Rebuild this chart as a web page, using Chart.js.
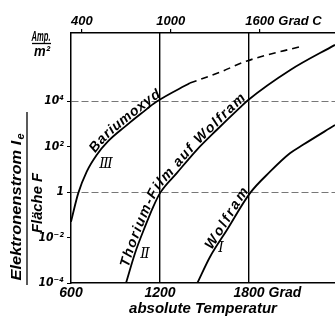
<!DOCTYPE html>
<html>
<head>
<meta charset="utf-8">
<script src="https://cdn.jsdelivr.net/npm/chart.js@4"></script>
<style>
html, body { margin: 0; padding: 0; background: #fff; }
canvas { display: block; }
</style>
</head>
<body>
<canvas id="grafico" width="335" height="322"></canvas>
<script>
// absolute Temperatur (K) und Elektronenstrom / Fläche (A/m²)
const bariumK = [600, 649, 706, 773, 849, 964, 1077, 1178, 1402];
const bariumI = [0.05, 0.9, 8, 43, 170, 760, 3000, 9600, 6.3e4];
const bariumStrichK = [1402, 1605, 1787, 2164];
const bariumStrichI = [6.3e4, 1.9e5, 5.9e5, 2.7e6];
const thoriumK = [971, 1031, 1099, 1155, 1200, 1313, 1447, 1582, 1739, 1793, 2076, 2380];
const thoriumI = [1e-4, 2.0e-3, 0.03, 0.23, 0.9, 6.8, 71, 540, 5200, 1.1e4, 2.3e5, 3.0e6];
const wolframK = [1452, 1537, 1650, 1807, 1942, 2076, 2164, 2380];
const wolframI = [1e-4, 1.4e-3, 0.021, 0.9, 7.9, 51, 120, 890];

const tempTicks = [600, 1200, 1800];
const tempLabels = ['600', '1200', '1800'];
const celsiusTicks = [673, 1273, 1873];
const celsiusLabels = ['400', '1000', '1600'];
const stromTicks = [1e-4, 1e-2, 1, 1e2, 1e4];
const stromLabels = ['10⁻⁴', '10⁻²', '1', '10²', '10⁴'];
const gitterTemp = [1200, 1800];
const gitterStrom = [1, 1e4];

// Beschriftung entlang der Kurven: Text, Datensatz, von K, bis K
const kurvenTexte = [
  ['Bariumoxyd', 0, 775, 1215],
  ['Thorium-Film auf Wolfram', 2, 1000, 1790],
  ['Wolfram', 3, 1560, 1810]
];
// Kurvennummern: Text, K, Strom
const nummern = [['Ⅲ', 836, 17], ['Ⅱ', 1099, 1.9e-3], ['Ⅰ', 1612, 3.5e-3]];

const FONT = "'Liberation Sans', Arial, sans-serif";
const schrift = (g, fam) => ({ family: fam || FONT, size: g, style: 'italic', weight: 'bold' });

function punkte(ks, is) {
  return ks.map((k, i) => ({ x: k, y: is[i] }));
}

// Kurve als Polylinie in Pixeln (aus den Bezier-Kontrollpunkten von Chart.js)
function kurve(meta) {
  const p = meta.data, out = [];
  for (let i = 0; i < p.length - 1; i++) {
    const a = p[i], b = p[i + 1];
    for (let j = 0; j < 20; j++) {
      const t = j / 20, u = 1 - t;
      if (a.cp2x === undefined) {
        out.push({ x: a.x + (b.x - a.x) * t, y: a.y + (b.y - a.y) * t });
      } else {
        out.push({
          x: u*u*u*a.x + 3*u*u*t*a.cp2x + 3*u*t*t*b.cp1x + t*t*t*b.x,
          y: u*u*u*a.y + 3*u*u*t*a.cp2y + 3*u*t*t*b.cp1y + t*t*t*b.y
        });
      }
    }
  }
  const l = p[p.length - 1];
  out.push({ x: l.x, y: l.y });
  out[0].s = 0;
  for (let i = 1; i < out.length; i++) {
    out[i].s = out[i-1].s + Math.hypot(out[i].x - out[i-1].x, out[i].y - out[i-1].y);
  }
  return out;
}

function punktBei(pl, s) {
  if (s <= 0) return pl[0];
  for (let i = 0; i < pl.length - 1; i++) {
    if (pl[i+1].s >= s) {
      const f = (s - pl[i].s) / (pl[i+1].s - pl[i].s || 1);
      return { x: pl[i].x + (pl[i+1].x - pl[i].x) * f, y: pl[i].y + (pl[i+1].y - pl[i].y) * f };
    }
  }
  return pl[pl.length - 1];
}

function sBeiX(pl, x) {
  for (let i = 0; i < pl.length - 1; i++) {
    if (pl[i+1].x >= x) {
      const f = (x - pl[i].x) / (pl[i+1].x - pl[i].x || 1);
      return pl[i].s + (pl[i+1].s - pl[i].s) * f;
    }
  }
  return pl[pl.length - 1].s;
}

function textAufKurve(ctx, pl, text, s0, s1, abstand) {
  const zeichen = [...text];
  const breiten = zeichen.map(c => ctx.measureText(c).width);
  const summe = breiten.reduce((a, b) => a + b, 0);
  const extra = (s1 - s0 - summe) / (zeichen.length - 1);
  let s = s0;
  zeichen.forEach((c, i) => {
    const m = s + breiten[i] / 2;
    const p = punktBei(pl, m), q1 = punktBei(pl, m - 4), q2 = punktBei(pl, m + 4);
    const w = Math.atan2(q2.y - q1.y, q2.x - q1.x);
    ctx.save();
    ctx.translate(p.x, p.y);
    ctx.rotate(w);
    ctx.fillText(c, 0, -abstand);
    ctx.restore();
    s += breiten[i] + extra;
  });
}

// Text auf feste Länge gestreckt
function gestreckt(ctx, text, cx, cy, winkel, laenge, groesse) {
  ctx.save();
  ctx.translate(cx, cy);
  ctx.rotate(winkel);
  ctx.font = `italic bold ${groesse}px ${FONT}`;
  const w = ctx.measureText(text).width;
  ctx.scale(laenge / w, 1);
  ctx.textAlign = 'center';
  ctx.textBaseline = 'middle';
  ctx.fillText(text, 0, 0);
  ctx.restore();
}

const beschriftung = {
  id: 'beschriftung',
  afterDraw(chart) {
    const ctx = chart.ctx;
    const x = chart.scales.x, x2 = chart.scales.x2, y = chart.scales.y;
    ctx.save();
    ctx.fillStyle = '#000';
    ctx.strokeStyle = '#000';

    // Kurventexte
    ctx.font = `italic bold 14px ${FONT}`;
    ctx.textAlign = 'center';
    ctx.textBaseline = 'alphabetic';
    kurvenTexte.forEach(([text, ds, k0, k1]) => {
      const pl = kurve(chart.getDatasetMeta(ds));
      const s0 = sBeiX(pl, x.getPixelForValue(k0));
      const s1 = sBeiX(pl, x.getPixelForValue(k1));
      textAufKurve(ctx, pl, text, s0, s1, 2);
    });

    // Kurvennummern
    ctx.font = "italic 14px 'DejaVu Serif', serif";
    ctx.textBaseline = 'middle';
    nummern.forEach(([t, k, i]) => {
      ctx.fillText(t, x.getPixelForValue(k), y.getPixelForValue(i));
    });

    // Grad / Grad C hinter den letzten Achsenzahlen
    ctx.textAlign = 'left';
    ctx.font = `italic bold 14px ${FONT}`;
    let w = ctx.measureText(tempLabels[2]).width;
    ctx.fillText('Grad', x.getPixelForValue(tempTicks[2]) + w / 2 + 4, x.top + 2 + 14 * 1.2 / 2);
    ctx.font = `italic bold 13px ${FONT}`;
    w = ctx.measureText(celsiusLabels[2]).width;
    ctx.fillText('Grad C', x2.getPixelForValue(celsiusTicks[2]) + w / 2 + 4, x2.bottom - 4 - 13 * 1.2 / 2);

    // Einheit Amp./m²
    gestreckt(ctx, 'Amp.', 41, 37.5, 0, 19, 14);
    ctx.lineWidth = 1.3;
    ctx.beginPath(); ctx.moveTo(32, 43.5); ctx.lineTo(51, 43.5); ctx.stroke();
    gestreckt(ctx, 'm²', 42, 52, 0, 16, 14);

    // Achsentitel als Bruch
    ctx.save();
    ctx.translate(17, 207);
    ctx.rotate(-Math.PI / 2);
    ctx.font = `italic bold 15px ${FONT}`;
    const t1 = 'Elektronenstrom I';
    const w1 = ctx.measureText(t1).width;
    ctx.font = `italic bold 10px ${FONT}`;
    const w2 = ctx.measureText('e').width;
    const ges = w1 + w2 + 1;
    ctx.scale(147 / ges, 1);
    ctx.textAlign = 'left';
    ctx.textBaseline = 'middle';
    ctx.font = `italic bold 15px ${FONT}`;
    ctx.fillText(t1, -ges / 2, 0);
    ctx.font = `italic bold 10px ${FONT}`;
    ctx.fillText('e', -ges / 2 + w1 + 1, 4);
    ctx.restore();
    ctx.beginPath(); ctx.moveTo(27, 112); ctx.lineTo(27, 285); ctx.stroke();
    gestreckt(ctx, 'Fläche F', 37.5, 203, -Math.PI / 2, 60, 15);

    ctx.restore();
  }
};

const linie = { borderColor: '#000', borderWidth: 1.8, pointRadius: 0, cubicInterpolationMode: 'monotone', fill: false };

new Chart(document.getElementById('grafico'), {
  type: 'line',
  data: {
    datasets: [
      { ...linie, label: 'III Bariumoxyd', data: punkte(bariumK, bariumI) },
      { ...linie, label: 'III Bariumoxyd (extrapoliert)', data: punkte(bariumStrichK, bariumStrichI), borderDash: [7, 5], borderWidth: 1.6 },
      { ...linie, label: 'II Thorium-Film auf Wolfram', data: punkte(thoriumK, thoriumI) },
      { ...linie, label: 'I Wolfram', data: punkte(wolframK, wolframI) }
    ]
  },
  options: {
    responsive: false,
    animation: false,
    devicePixelRatio: 1,
    events: [],
    layout: { padding: 0 },
    plugins: { legend: { display: false }, tooltip: { enabled: false } },
    scales: {
      x: {
        type: 'linear', position: 'bottom', min: 600, max: 2380,
        afterBuildTicks: s => { s.ticks = tempTicks.map(v => ({ value: v })); },
        afterFit: s => { s.height = 39; s.paddingLeft = 0; s.paddingRight = 0; },
        ticks: { callback: (v, i) => tempLabels[i], font: schrift(14), color: '#000', padding: 2, maxRotation: 0, autoSkip: false },
        grid: { color: c => gitterTemp.includes(c.tick && c.tick.value) ? '#000' : 'rgba(0,0,0,0)', lineWidth: 1.4, drawTicks: false },
        border: { color: '#000', width: 1.5 },
        title: { display: true, text: 'absolute Temperatur', font: schrift(15), color: '#000', padding: { top: 0, bottom: 4 } }
      },
      x2: {
        type: 'linear', position: 'top', min: 600, max: 2380,
        afterBuildTicks: s => { s.ticks = celsiusTicks.map(v => ({ value: v })); },
        afterFit: s => { s.height = 33; s.paddingLeft = 0; s.paddingRight = 0; },
        ticks: { callback: (v, i) => celsiusLabels[i], font: schrift(13), color: '#000', padding: 0, maxRotation: 0, autoSkip: false },
        grid: { drawOnChartArea: false, tickLength: 4, color: '#000', tickColor: '#000', lineWidth: 1.2 },
        border: { color: '#000', width: 1.5 }
      },
      y: {
        type: 'logarithmic', position: 'left', min: 1e-4, max: 1e7,
        afterBuildTicks: s => { s.ticks = stromTicks.map(v => ({ value: v })); },
        afterFit: s => { s.width = 71; s.paddingTop = 0; s.paddingBottom = 0; },
        ticks: { callback: (v, i) => stromLabels[i], font: schrift(12, "'DejaVu Sans Condensed', 'DejaVu Sans', sans-serif"), color: '#000', padding: 3, autoSkip: false },
        grid: {
          color: c => gitterStrom.includes(c.tick && c.tick.value) ? '#777' : 'rgba(0,0,0,0)',
          tickColor: '#000', tickLength: 4, lineWidth: 1
        },
        border: { color: '#000', width: 1.5, dash: [7, 3] }
      }
    }
  },
  plugins: [beschriftung]
});
</script>
</body>
</html>
